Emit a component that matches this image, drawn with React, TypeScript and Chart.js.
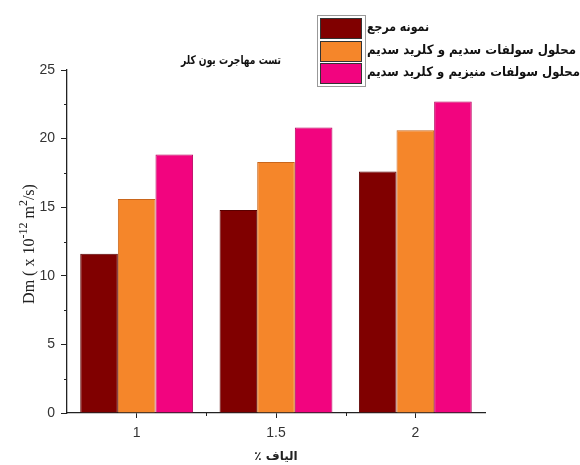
import React, { useEffect, useRef } from "react";
import { Chart, registerables } from "chart.js";

Chart.register(...registerables);

const categories = ["1", "1.5", "2"];
const seriesNames = [
  "نمونه مرجع",
  "محلول سولفات سدیم و کلرید سدیم",
  "محلول سولفات منیزیم و کلرید سدیم",
];
const referenceValues = [11.6, 14.8, 17.6];
const sodiumValues = [15.6, 18.3, 20.6];
const magnesiumValues = [18.85, 20.8, 22.7];
const yMinorTicks = [2.5, 7.5, 12.5, 17.5, 22.5];
const chartTitle = "تست مهاجرت یون کلر";
const xTitle = "٪ الیاف";

const colors = ["#800000", "#f5862a", "#f2047f"];
const borders = ["#5a0000", "#c9661c", "#b8005e"];
const legendTextWidths = [62, 209, 213];

const ARABIC_FONT = "'DejaVu Sans', 'Noto Sans', sans-serif";

const extrasPlugin = {
  id: "extras",
  afterDraw(chart: any) {
    const ctx = chart.ctx as CanvasRenderingContext2D;
    const x = chart.scales.x;
    const y = chart.scales.y;
    const area = chart.chartArea;
    ctx.save();
    // minor ticks
    ctx.strokeStyle = "#222";
    ctx.lineWidth = 1;
    yMinorTicks.forEach((v) => {
      const py = Math.round(y.getPixelForValue(v)) + 0.5;
      ctx.beginPath();
      ctx.moveTo(area.left - 3, py);
      ctx.lineTo(area.left, py);
      ctx.stroke();
    });
    for (let i = 0; i < categories.length - 1; i++) {
      const px = Math.round((x.getPixelForTick(i) + x.getPixelForTick(i + 1)) / 2) + 0.5;
      ctx.beginPath();
      ctx.moveTo(px, area.bottom);
      ctx.lineTo(px, area.bottom + 3);
      ctx.stroke();
    }
    // chart title
    ctx.fillStyle = "#111";
    ctx.textAlign = "center";
    ctx.textBaseline = "middle";
    ctx.font = `bold 12px ${ARABIC_FONT}`;
    ctx.fillText(chartTitle, 231, 61, 100);
    // x title
    ctx.font = `bold 12px ${ARABIC_FONT}`;
    ctx.fillStyle = "#222";
    ctx.fillText(xTitle, (area.left + area.right) / 2, 457);
    // y title with superscripts
    ctx.save();
    ctx.translate(28, 244);
    ctx.rotate(-Math.PI / 2);
    const segs: [string, boolean][] = [
      ["Dm ( x 10", false],
      ["-12", true],
      [" m", false],
      ["2", true],
      ["/s)", false],
    ];
    const fNorm = "16px 'Liberation Serif', 'DejaVu Serif', serif";
    const fSup = "12px 'Liberation Serif', 'DejaVu Serif', serif";
    let total = 0;
    segs.forEach(([t, s]) => {
      ctx.font = s ? fSup : fNorm;
      total += ctx.measureText(t).width;
    });
    let cx = -total / 2;
    ctx.textAlign = "left";
    ctx.textBaseline = "alphabetic";
    ctx.fillStyle = "#222";
    segs.forEach(([t, s]) => {
      ctx.font = s ? fSup : fNorm;
      ctx.fillText(t, cx, s ? -1 : 6);
      cx += ctx.measureText(t).width;
    });
    ctx.restore();
    // legend
    const bx = 320;
    const bw = 42;
    const tops = [18, 41, 63];
    const bh = 21;
    ctx.strokeStyle = "#999";
    ctx.strokeRect(317.5, 15.5, 48, 71);
    tops.forEach((t, i) => {
      ctx.fillStyle = colors[i];
      ctx.fillRect(bx, t, bw, bh);
      ctx.strokeStyle = "#333";
      ctx.strokeRect(bx + 0.5, t + 0.5, bw - 1, bh - 1);
      ctx.fillStyle = "#111";
      ctx.textAlign = "left";
      ctx.textBaseline = "middle";
      ctx.font = `bold 13px ${ARABIC_FONT}`;
      ctx.fillText(seriesNames[i], 367, t + bh / 2 - 1, legendTextWidths[i]);
    });
    ctx.restore();
  },
};

export default function App() {
  const ref = useRef<HTMLCanvasElement>(null);
  useEffect(() => {
    if (!ref.current) return;
    const values = [referenceValues, sodiumValues, magnesiumValues];
    const chart = new Chart(ref.current, {
      type: "bar",
      data: {
        labels: categories,
        datasets: values.map((d, i) => ({
          label: seriesNames[i],
          data: d,
          backgroundColor: colors[i],
          borderColor: borders[i],
          borderWidth: 1,
          categoryPercentage: 0.81,
          barPercentage: 1,
        })),
      },
      options: {
        responsive: false,
        animation: false,
        layout: { padding: { top: 70, right: 95, left: 0, bottom: 0 } },
        plugins: { legend: { display: false }, tooltip: { enabled: false } },
        scales: {
          x: {
            type: "category",
            offset: true,
            afterFit: (s: any) => {
              s.height = 52;
            },
            grid: {
              display: true,
              drawOnChartArea: false,
              offset: false,
              tickLength: 5,
              color: "#222",
            },
            border: { display: true, color: "#222", width: 1.3 },
            ticks: {
              color: "#333",
              padding: 7,
              font: { family: "'Liberation Sans', Arial, sans-serif", size: 14 },
            },
          },
          y: {
            min: 0,
            max: 25,
            afterFit: (s: any) => {
              s.width = 67;
            },
            grid: {
              display: true,
              drawOnChartArea: false,
              tickLength: 6,
              color: "#222",
            },
            border: { display: true, color: "#222", width: 1.3 },
            ticks: {
              stepSize: 5,
              color: "#333",
              padding: 6,
              font: { family: "'Liberation Sans', Arial, sans-serif", size: 14 },
            },
          },
        },
      },
      plugins: [extrasPlugin],
    });
    return () => chart.destroy();
  }, []);
  return (
    <div style={{ position: "fixed", left: 0, top: 0, width: 580, height: 465, background: "#fff" }}>
      <canvas ref={ref} width={580} height={465} />
    </div>
  );
}
